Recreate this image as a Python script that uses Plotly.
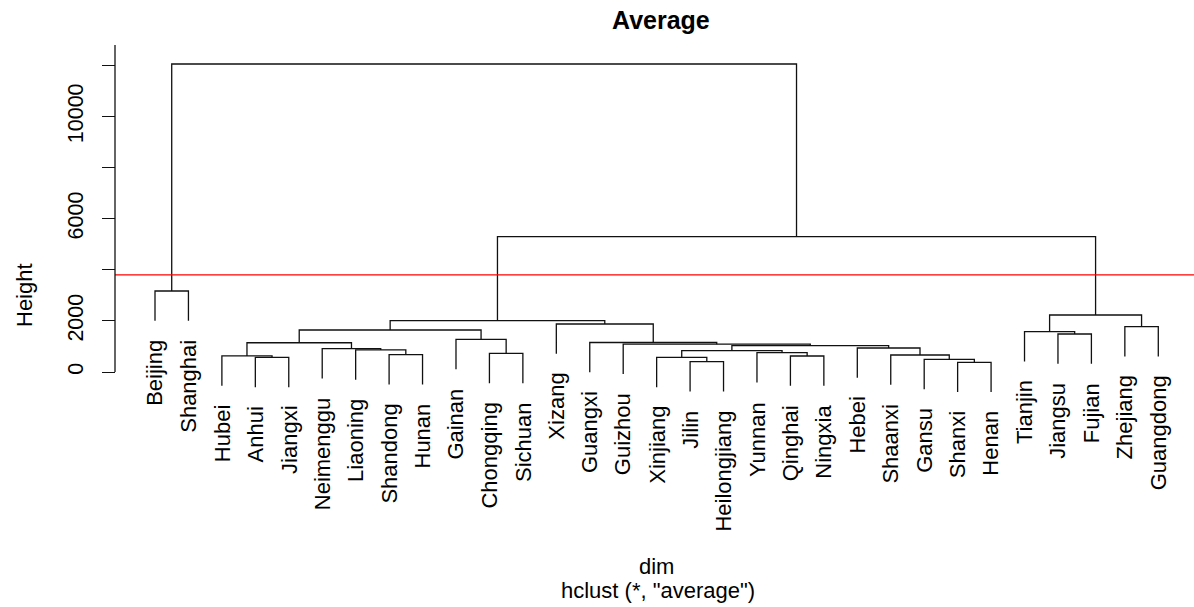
import plotly.graph_objects as go

# ---------------- data ----------------
labels = ["Beijing", "Shanghai", "Hubei", "Anhui", "Jiangxi", "Neimenggu", "Liaoning",
          "Shandong", "Hunan", "Gainan", "Chongqing", "Sichuan", "Xizang", "Guangxi",
          "Guizhou", "Xinjiang", "Jilin", "Heilongjiang", "Yunnan", "Qinghai", "Ningxia",
          "Hebei", "Shaanxi", "Gansu", "Shanxi", "Henan", "Tianjin", "Jiangsu", "Fujian",
          "Zhejiang", "Guangdong"]

# merge steps (R hclust style): children are leaf names or "m<k>" = k-th merge
merge_left = ["Shanxi", "Jilin", "Gansu", "Xinjiang", "Anhui", "Qinghai", "Hubei",
              "Shaanxi", "Shandong", "Chongqing", "Yunnan", "m4", "Liaoning", "Neimenggu",
              "Hebei", "m12", "Guizhou", "m7", "Guangxi", "Gainan", "Jiangsu", "Tianjin",
              "m18", "Zhejiang", "Xizang", "m23", "m22", "Beijing", "m26", "m28"]
merge_right = ["Henan", "Heilongjiang", "m1", "m2", "Jiangxi", "Ningxia", "m5",
               "m3", "Hunan", "Sichuan", "m6", "m11", "m9", "m13",
               "m8", "m15", "m16", "m14", "m17", "m10", "Fujian", "m21",
               "m20", "Guangdong", "m19", "m25", "m24", "Shanghai", "m27", "m29"]
merge_height = [380, 403, 497, 575, 575, 626, 630,
                665, 680, 732, 755, 834, 865, 912,
                940, 1030, 1090, 1145, 1155, 1280, 1488, 1578,
                1644, 1773, 1879, 2008, 2232, 3171, 5297, 12058]

cut_height = 3800
y_tickvals = [0, 2000, 4000, 6000, 8000, 10000, 12000]
y_ticktext = ["0", "2000", "", "6000", "", "10000", ""]

# ---------------- layout constants ----------------
W, H = 1194, 607
PX_LEAF1, PX_STEP = 155.0, 33.443
PX_ZERO, UNITS_PER_PX = 372.0, 39.15
PX_AXIS_X, PX_PLOT_TOP = 115.0, 45.0
FONT = "Liberation Sans, Arial, sans-serif"

x_min = 1 - PX_LEAF1 / PX_STEP
x_max = x_min + W / PX_STEP
y_max = PX_ZERO * UNITS_PER_PX
y_min = -(H - PX_ZERO) * UNITS_PER_PX

hang = 0.1 * (max(merge_height) - min(merge_height))

pos = {name: i + 1 for i, name in enumerate(labels)}
node_x, node_h, leaf_bottom = {}, {}, {}
xs, ys = [], []
for k, (a, b, h) in enumerate(zip(merge_left, merge_right, merge_height), start=1):
    pts = []
    for c in (a, b):
        if c in pos:
            cx, cy = pos[c], h - hang
            leaf_bottom[c] = cy
        else:
            cx, cy = node_x[c], node_h[c]
        pts.append((cx, cy))
    (xa, ya), (xb, yb) = pts
    xs += [xa, xa, xb, xb, None]
    ys += [ya, h, h, yb, None]
    node_x[f"m{k}"] = (xa + xb) / 2
    node_h[f"m{k}"] = h

fig = go.Figure()
fig.add_trace(go.Scatter(x=xs, y=ys, mode="lines",
                         line=dict(color="#111111", width=1.3),
                         hoverinfo="skip", showlegend=False))

annotations = []
for name in labels:
    annotations.append(dict(x=pos[name], y=leaf_bottom[name], xref="x", yref="y",
                            text=name, showarrow=False, textangle=-90,
                            xanchor="center", yanchor="top", yshift=-17,
                            font=dict(family=FONT, size=22, color="black")))

annotations += [
    dict(x=661 / W, y=1 - 20 / H, xref="paper", yref="paper", text="<b>Average</b>",
         showarrow=False, xanchor="center", yanchor="middle",
         font=dict(family=FONT, size=25, color="black")),
    dict(x=656 / W, y=1 - 566 / H, xref="paper", yref="paper", text="dim",
         showarrow=False, xanchor="center", yanchor="middle",
         font=dict(family=FONT, size=22, color="black")),
    dict(x=658 / W, y=1 - 590 / H, xref="paper", yref="paper",
         text='hclust (*, "average")', showarrow=False, xanchor="center", yanchor="middle",
         font=dict(family=FONT, size=22, color="black")),
    dict(x=24 / W, y=1 - 295 / H, xref="paper", yref="paper", text="Height",
         showarrow=False, textangle=-90, xanchor="center", yanchor="middle",
         font=dict(family=FONT, size=22, color="black")),
]

shapes = [
    dict(type="line", xref="paper", yref="y", x0=PX_AXIS_X / W, x1=1,
         y0=cut_height, y1=cut_height, line=dict(color="#FF0000", width=1.3)),
    dict(type="line", xref="paper", yref="paper", x0=PX_AXIS_X / W, x1=PX_AXIS_X / W,
         y0=1 - PX_ZERO / H, y1=1 - PX_PLOT_TOP / H, line=dict(color="#111111", width=1.3)),
]

fig.update_layout(
    width=W, height=H, margin=dict(l=0, r=0, t=0, b=0),
    paper_bgcolor="white", plot_bgcolor="white",
    xaxis=dict(range=[x_min, x_max], visible=False, fixedrange=True),
    yaxis=dict(range=[y_min, y_max], anchor="free", position=PX_AXIS_X / W, side="left",
               tickmode="array", tickvals=y_tickvals, ticktext=y_ticktext,
               ticks="outside", ticklen=13, tickwidth=1.3, tickcolor="#111111",
               tickangle=-90, tickfont=dict(family=FONT, size=21.5, color="black"),
               ticklabelstandoff=10,
               showline=False, showgrid=False, zeroline=False, fixedrange=True),
    annotations=annotations, shapes=shapes, showlegend=False,
)

fig.write_html("out.html", config={"displayModeBar": False},
               post_script="document.body.style.margin='0';document.body.style.overflow='hidden';")
